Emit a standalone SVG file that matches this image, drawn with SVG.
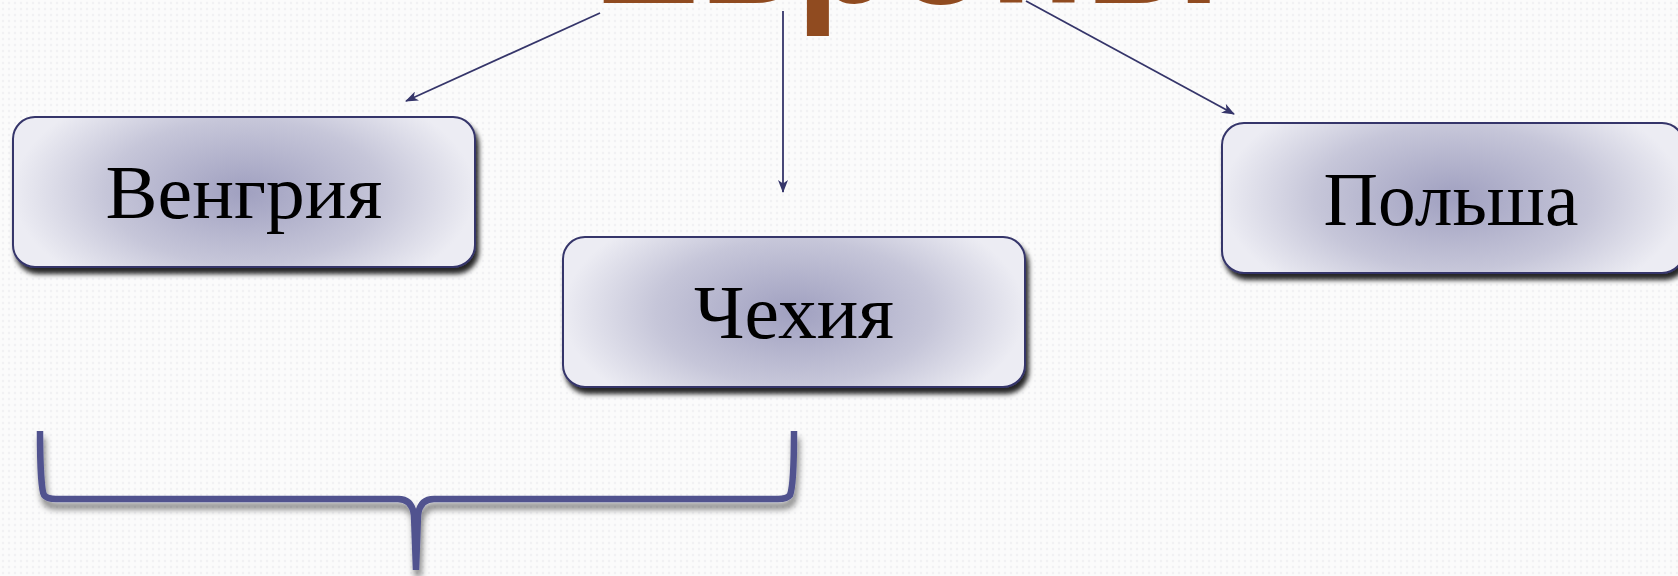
<svg xmlns="http://www.w3.org/2000/svg" width="1678" height="576" viewBox="0 0 1678 576">
  <defs>
    <pattern id="bgp" width="6" height="6" patternUnits="userSpaceOnUse">
      <rect width="6" height="6" fill="#fbfbfb"/>
      <circle cx="3" cy="3" r="1.2" fill="#f1f1f3"/>
    </pattern>
    <radialGradient id="boxg" cx="0.5" cy="0.5" r="0.5" gradientTransform="translate(0.5 0.5) scale(1 1.6) translate(-0.5 -0.5)">
      <stop offset="0" stop-color="#a0a0c0"/>
      <stop offset="0.6" stop-color="#c6c6d9"/>
      <stop offset="1" stop-color="#ececf3"/>
    </radialGradient>
    <filter id="boxsh" x="-10%" y="-20%" width="120%" height="150%">
      <feDropShadow dx="3" dy="6" stdDeviation="2.5" flood-color="#000" flood-opacity="0.85"/>
    </filter>
    <filter id="bracesh" x="-10%" y="-30%" width="120%" height="170%">
      <feDropShadow dx="2" dy="7" stdDeviation="3" flood-color="#000" flood-opacity="0.5"/>
    </filter>
    <marker id="arr" markerWidth="14" markerHeight="10" refX="12" refY="5" orient="auto" markerUnits="userSpaceOnUse">
      <path d="M0,0 L13,5 L0,10 L3.5,5 Z" fill="#35356a"/>
    </marker>
  </defs>
  <style>
    .box { fill: url(#boxg); stroke: #35356a; stroke-width: 2; filter: url(#boxsh); }
    .lbl { font-family: "Liberation Serif", "DejaVu Serif", serif; font-size: 76px; fill: #000; text-anchor: middle; }
    .conn { stroke: #35356a; stroke-width: 1.8; fill: none; marker-end: url(#arr); }
    .title { font-family: "Liberation Sans", Arial, sans-serif; font-weight: bold; font-size: 160px; fill: #904b20; }
    .brace { fill: none; stroke: #51538f; stroke-width: 6.5; stroke-linecap: butt; stroke-linejoin: round; filter: url(#bracesh); }
  </style>
  <rect width="1678" height="576" fill="url(#bgp)"/>

  <text class="title" x="593" y="3" textLength="628" lengthAdjust="spacing">Европы</text>

  <g id="connectors">
    <line class="conn" x1="600" y1="13" x2="406" y2="101"/>
    <line class="conn" x1="783" y1="11" x2="783" y2="192"/>
    <line class="conn" x1="1026" y1="1" x2="1234" y2="114"/>
  </g>

  <g id="node-hungary">
    <rect class="box" x="13" y="117" width="462" height="150" rx="22"/>
    <text class="lbl" x="244" y="218" textLength="277" lengthAdjust="spacingAndGlyphs">Венгрия</text>
  </g>
  <g id="node-czech">
    <rect class="box" x="563" y="237" width="462" height="150" rx="22"/>
    <text class="lbl" x="794" y="338" textLength="200" lengthAdjust="spacingAndGlyphs">Чехия</text>
  </g>
  <g id="node-poland">
    <rect class="box" x="1222" y="123" width="462" height="150" rx="22"/>
    <text class="lbl" x="1451" y="225" textLength="255" lengthAdjust="spacingAndGlyphs">Польша</text>
  </g>

  <g id="brace">
    <path class="brace" d="M40,431 C40,470 42,492 44,495 Q47,499 56,499 L398,499 Q412,499 414,515 L416,570 M416,570 L418,515 Q420,499 434,499 L778,499 Q787,499 790,495 C792,490 794,470 794,431"/>
  </g>
</svg>
